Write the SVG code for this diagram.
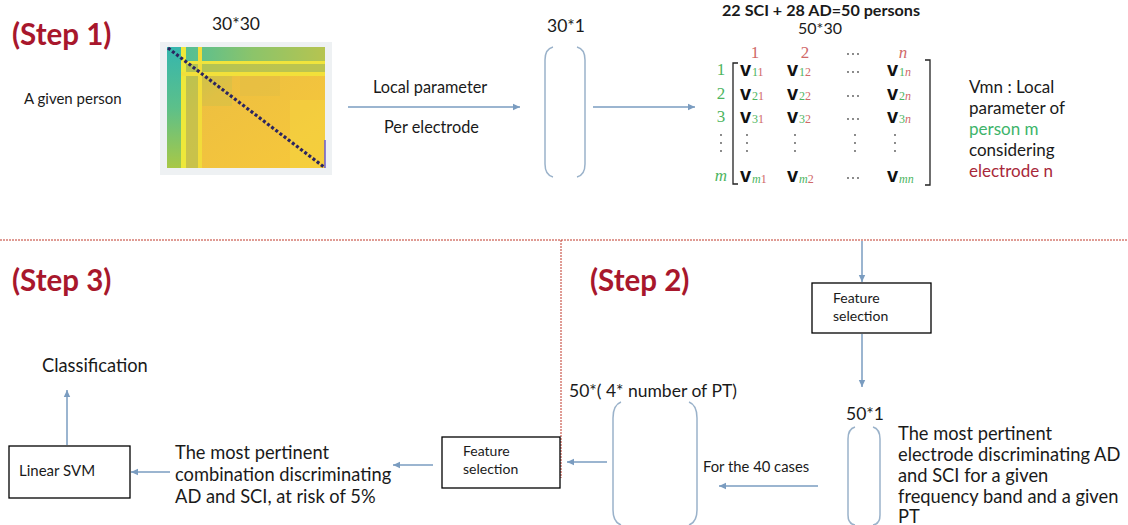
<svg xmlns="http://www.w3.org/2000/svg" width="1128" height="525" viewBox="0 0 1128 525">
<style>
  text { font-family: Lato, "Liberation Sans", sans-serif; fill: #1a1a1a; }
  .step { font-size: 29.5px; font-weight: bold; fill: #A8172C; }
  .lbl { font-size: 16.3px; }
  .big { font-size: 18.3px; }
  .note { font-size: 17px; }
  .dim { font-size: 17.5px; }
  .small { font-size: 14px; }
  .box { fill: #ffffff; stroke: #000000; stroke-width: 1.3; }
  .conn { stroke: #7A9CC0; stroke-width: 1.5; fill: none; }
  .br { stroke: #9AB2CA; stroke-width: 1.5; fill: none; }
  .mbr { stroke: #222; stroke-width: 1.3; fill: none; }
  .sep { stroke: #C0392B; stroke-width: 1; stroke-dasharray: 2 1; fill: none; }
  .vb { font-family: "Liberation Sans", sans-serif; font-weight: bold; font-size: 20px; fill: #111; }
  .sub { font-family: "Liberation Serif", serif; font-size: 12px; }
  .g { fill: #4DB560; }
  .r { fill: #D06868; }
  .ser { font-family: "Liberation Serif", serif; font-size: 17px; }
  .dot { fill: #555; }
</style>
<defs>
  <marker id="ah" markerWidth="8" markerHeight="8" refX="7" refY="4" orient="auto" markerUnits="userSpaceOnUse">
    <path d="M0,0.8 L7,4 L0,7.2 Z" fill="#7A9CC0"/>
  </marker>
  <linearGradient id="leftcol" x1="0" y1="0" x2="0" y2="1">
    <stop offset="0" stop-color="#35B6AE"/>
    <stop offset="0.5" stop-color="#5CC08A"/>
    <stop offset="1" stop-color="#A8C846"/>
  </linearGradient>
  <linearGradient id="toprow" x1="0" y1="0" x2="1" y2="0">
    <stop offset="0" stop-color="#4FBE98"/>
    <stop offset="0.5" stop-color="#8CC46A"/>
    <stop offset="1" stop-color="#B6C450"/>
  </linearGradient>
  <linearGradient id="body" x1="0" y1="0" x2="1" y2="1">
    <stop offset="0" stop-color="#A6C656"/>
    <stop offset="0.35" stop-color="#EEC040"/>
    <stop offset="1" stop-color="#F7C83A"/>
  </linearGradient>
</defs>

<!-- separators -->
<g id="separators">
  <line class="sep" x1="0" y1="240" x2="1128" y2="240"/>
  <line class="sep" x1="561" y1="240" x2="561" y2="478"/>
</g>

<!-- step titles -->
<g id="step1"><text class="step" x="12" y="45">(Step 1)</text></g>
<g id="step2"><text class="step" x="590" y="291">(Step 2)</text></g>
<g id="step3"><text class="step" x="12" y="291">(Step 3)</text></g>

<!-- Step 1 -->
<g id="given-person"><text x="24" y="104" style="font-size:15px">A given person</text></g>

<g id="heatmap">
  <text class="dim" x="236" y="30" text-anchor="middle">30*30</text>
  <rect x="160" y="42" width="172" height="133" fill="#EEF1F3"/>
  <rect x="167" y="47" width="158" height="121" fill="url(#body)"/>
  <rect x="181" y="47" width="144" height="14" fill="url(#toprow)"/>
  <rect x="181" y="64" width="144" height="8" fill="#A9C456" opacity="0.75"/>
  <rect x="167" y="47" width="14" height="121" fill="url(#leftcol)"/>
  <rect x="186" y="61" width="12" height="107" fill="#B4C252" opacity="0.65"/>
  <rect x="181" y="47" width="5" height="121" fill="#EEE83A"/>
  <rect x="198" y="47" width="4" height="121" fill="#F2DC3A"/>
  <rect x="181" y="61" width="144" height="3" fill="#F0E43C"/>
  <rect x="181" y="72" width="144" height="4" fill="#F2E03A"/>
  <rect x="202" y="76" width="30" height="30" fill="#C9C04A" opacity="0.4"/>
  <rect x="240" y="76" width="40" height="20" fill="#D8BE48" opacity="0.3"/>
  <rect x="290" y="100" width="35" height="68" fill="#F5D640" opacity="0.45"/>
  <line x1="168" y1="48" x2="324" y2="167" stroke="#2B2560" stroke-width="3.2" stroke-dasharray="3 2.2"/>
  <line x1="325" y1="140" x2="325" y2="168" stroke="#6A5ACD" stroke-width="1.5"/>
</g>

<g id="local-param">
  <text class="lbl" x="373" y="93">Local parameter</text>
  <text class="lbl" x="384" y="133">Per electrode</text>
</g>

<g id="vec30">
  <text class="dim" x="547" y="32">30*1</text>
  <path class="br" d="M553,47 Q545,49 545,60 L545,164 Q545,175 553,177"/>
  <path class="br" d="M577,47 Q585,49 585,60 L585,164 Q585,175 577,177"/>
</g>

<g id="matrix">
  <text x="722" y="16" style="font-size:15px;font-weight:bold" textLength="198" lengthAdjust="spacingAndGlyphs">22 SCI + 28 AD=50 persons</text>
  <text x="820" y="34" text-anchor="middle" style="font-size:16px">50*30</text>
  <!-- column headers -->
  <text class="ser r" x="755" y="58" text-anchor="middle">1</text>
  <text class="ser r" x="805" y="58" text-anchor="middle">2</text>
  <text class="ser r" x="903" y="58" text-anchor="middle" font-style="italic">n</text>
  <circle class="dot" cx="848" cy="54" r="0.9"/><circle class="dot" cx="853" cy="54" r="0.9"/><circle class="dot" cx="858" cy="54" r="0.9"/>
  <!-- row labels -->
  <text class="ser g" x="721" y="75" text-anchor="middle">1</text>
  <text class="ser g" x="721" y="99" text-anchor="middle">2</text>
  <text class="ser g" x="721" y="122" text-anchor="middle">3</text>
  <text class="ser g" x="721" y="181" text-anchor="middle" font-style="italic">m</text>
  <!-- brackets -->
  <path class="mbr" d="M738,63 L733,63 L733,184 L738,184"/>
  <path class="mbr" d="M925,60 L930,60 L930,185 L925,185"/>
  <!-- row 1 -->
  <text class="vb" x="740" y="76">v</text><text class="sub" x="752" y="76"><tspan class="g">1</tspan><tspan class="r">1</tspan></text>
  <text class="vb" x="787" y="76">v</text><text class="sub" x="799" y="76"><tspan class="g">1</tspan><tspan class="r">2</tspan></text>
  <text class="vb" x="887" y="76">v</text><text class="sub" x="899" y="76"><tspan class="g">1</tspan><tspan class="r" font-style="italic">n</tspan></text>
  <!-- row 2 -->
  <text class="vb" x="740" y="100">v</text><text class="sub" x="752" y="100"><tspan class="g">2</tspan><tspan class="r">1</tspan></text>
  <text class="vb" x="787" y="100">v</text><text class="sub" x="799" y="100"><tspan class="g">2</tspan><tspan class="r">2</tspan></text>
  <text class="vb" x="887" y="100">v</text><text class="sub" x="899" y="100"><tspan class="g">2</tspan><tspan class="r" font-style="italic">n</tspan></text>
  <!-- row 3 -->
  <text class="vb" x="740" y="123">v</text><text class="sub" x="752" y="123"><tspan class="g">3</tspan><tspan class="r">1</tspan></text>
  <text class="vb" x="787" y="123">v</text><text class="sub" x="799" y="123"><tspan class="g">3</tspan><tspan class="r">2</tspan></text>
  <text class="vb" x="887" y="123">v</text><text class="sub" x="899" y="123"><tspan class="g">3</tspan><tspan class="r" font-style="italic">n</tspan></text>
  <!-- row m -->
  <text class="vb" x="740" y="182">v</text><text class="sub" x="752" y="183"><tspan class="g" font-style="italic">m</tspan><tspan class="r">1</tspan></text>
  <text class="vb" x="787" y="182">v</text><text class="sub" x="799" y="183"><tspan class="g" font-style="italic">m</tspan><tspan class="r">2</tspan></text>
  <text class="vb" x="887" y="182">v</text><text class="sub" x="899" y="183"><tspan class="g" font-style="italic">mn</tspan></text>
  <!-- horizontal dots -->
  <g class="dot">
    <circle cx="848" cy="72" r="0.9"/><circle cx="853" cy="72" r="0.9"/><circle cx="858" cy="72" r="0.9"/>
    <circle cx="848" cy="96" r="0.9"/><circle cx="853" cy="96" r="0.9"/><circle cx="858" cy="96" r="0.9"/>
    <circle cx="848" cy="119" r="0.9"/><circle cx="853" cy="119" r="0.9"/><circle cx="858" cy="119" r="0.9"/>
    <circle cx="848" cy="178" r="0.9"/><circle cx="853" cy="178" r="0.9"/><circle cx="858" cy="178" r="0.9"/>
  </g>
  <!-- vertical dots -->
  <g class="dot">
    <circle cx="721" cy="135" r="0.9"/><circle cx="721" cy="143" r="0.9"/><circle cx="721" cy="151" r="0.9"/>
    <circle cx="747" cy="135" r="0.9"/><circle cx="747" cy="143" r="0.9"/><circle cx="747" cy="151" r="0.9"/>
    <circle cx="795" cy="135" r="0.9"/><circle cx="795" cy="143" r="0.9"/><circle cx="795" cy="151" r="0.9"/>
    <circle cx="855" cy="135" r="0.9"/><circle cx="855" cy="143" r="0.9"/><circle cx="855" cy="151" r="0.9"/>
    <circle cx="895" cy="135" r="0.9"/><circle cx="895" cy="143" r="0.9"/><circle cx="895" cy="151" r="0.9"/>
  </g>
</g>

<g id="vmn-note">
  <text class="note" x="969" y="93">Vmn : Local</text>
  <text class="note" x="969" y="114">parameter of</text>
  <text class="note" x="969" y="135" style="fill:#3DB46A">person m</text>
  <text class="note" x="969" y="156">considering</text>
  <text class="note" x="969" y="177" style="fill:#A8283A">electrode n</text>
</g>

<!-- Step 2 -->
<g id="feature-selection-1">
  <rect class="box" x="812" y="283" width="119" height="50"/>
  <text class="small" x="833" y="303">Feature</text>
  <text class="small" x="833" y="321">selection</text>
</g>

<g id="vec50">
  <text class="dim" x="846" y="420">50*1</text>
  <path class="br" d="M855,427 Q848,429 848,439 L848,515 Q848,524 855,525"/>
  <path class="br" d="M873,427 Q880,429 880,439 L880,515 Q880,524 873,525"/>
</g>

<g id="pertinent-electrode">
  <text class="big" x="898" y="440">The most pertinent</text>
  <text class="big" x="898" y="461">electrode discriminating AD</text>
  <text class="big" x="898" y="482">and SCI for a given</text>
  <text class="big" x="898" y="503">frequency band and a given</text>
  <text class="big" x="898" y="523">PT</text>
</g>

<g id="matrix-pt">
  <text class="dim" x="569" y="397">50*( 4* number of PT)</text>
  <path class="br" d="M621,402 Q613,405 613,418 L613,510 Q613,522 621,525"/>
  <path class="br" d="M689,402 Q697,405 697,418 L697,510 Q697,522 689,525"/>
</g>

<g id="forty-cases"><text x="703" y="472" style="font-size:14.8px">For the 40 cases</text></g>

<!-- Step 3 -->
<g id="feature-selection-2">
  <rect class="box" x="442" y="437" width="118" height="51"/>
  <text class="small" x="463" y="456">Feature</text>
  <text class="small" x="463" y="474">selection</text>
</g>

<g id="pertinent-combination">
  <text class="big" x="175" y="459">The most pertinent</text>
  <text class="big" x="175" y="481">combination discriminating</text>
  <text class="big" x="175" y="503">AD and SCI,  at risk of 5%</text>
</g>

<g id="linear-svm">
  <rect class="box" x="9" y="446" width="121" height="52"/>
  <text x="19" y="476" style="font-size:15px">Linear SVM</text>
</g>

<g id="classification"><text class="big" x="42" y="372">Classification</text></g>

<!-- connectors -->
<g id="connectors">
  <line class="conn" x1="348" y1="107" x2="520" y2="107" marker-end="url(#ah)"/>
  <line class="conn" x1="593" y1="107" x2="695" y2="107" marker-end="url(#ah)"/>
  <line class="conn" x1="862" y1="241" x2="862" y2="282" marker-end="url(#ah)"/>
  <line class="conn" x1="862" y1="334" x2="862" y2="387" marker-end="url(#ah)"/>
  <line class="conn" x1="818" y1="486" x2="719" y2="486" marker-end="url(#ah)"/>
  <line class="conn" x1="607" y1="462" x2="567" y2="462" marker-end="url(#ah)"/>
  <line class="conn" x1="433" y1="465" x2="393" y2="465" marker-end="url(#ah)"/>
  <line class="conn" x1="170" y1="472" x2="131" y2="472" marker-end="url(#ah)"/>
  <line class="conn" x1="67" y1="445" x2="67" y2="390" marker-end="url(#ah)"/>
</g>
</svg>
